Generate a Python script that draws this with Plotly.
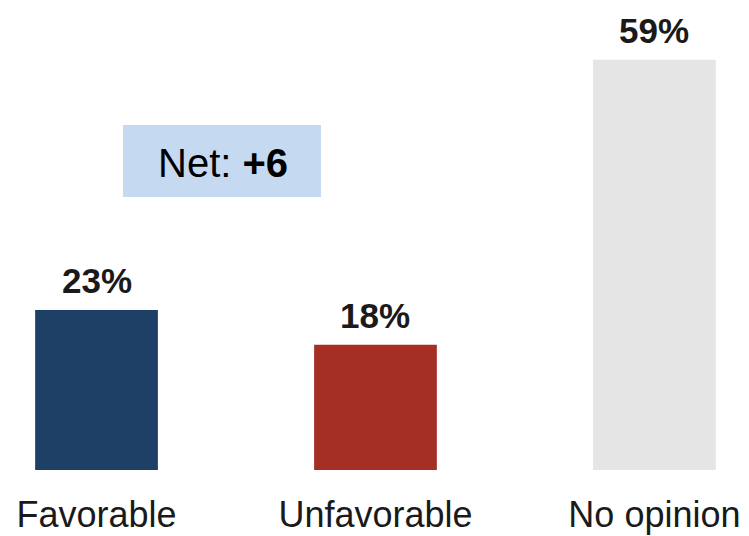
import plotly.graph_objects as go

categories = ["Favorable", "Unfavorable", "No opinion"]
values = [23, 18, 59]
bar_colors = ["#1e3f66", "#a52f25", "#e5e5e5"]
net_label = "Net: <b>+6</b>"

positions = list(range(len(categories)))
FONT = "Liberation Sans, Arial, sans-serif"
TEXT_COLOR = "#1a1a1a"

fig = go.Figure()
fig.add_trace(go.Bar(
    x=positions,
    y=values,
    width=0.44,
    marker=dict(color=bar_colors, line=dict(width=0)),
    hoverinfo="skip",
))

# value labels above each bar
for xpos, v in zip(positions, values):
    fig.add_annotation(
        x=xpos, y=v, xref="x", yref="y",
        text=f"<b>{v}%</b>", showarrow=False,
        yanchor="bottom", yshift=8,
        font=dict(family=FONT, size=35, color=TEXT_COLOR),
    )

# net score callout
fig.add_shape(
    type="rect", xref="paper", yref="paper",
    x0=123 / 749, x1=321 / 749, y0=1 - 197 / 470, y1=1 - 125 / 470,
    fillcolor="#c5d9f0", line=dict(width=0), layer="below",
)
fig.add_annotation(
    x=223 / 749, y=1 - 163 / 470, xref="paper", yref="paper",
    text=net_label, showarrow=False,
    xanchor="center", yanchor="middle",
    font=dict(family=FONT, size=40, color="#000000"),
)

fig.update_layout(
    width=749, height=536,
    margin=dict(l=0, r=0, t=0, b=66),
    paper_bgcolor="white", plot_bgcolor="white",
    showlegend=False,
    xaxis=dict(
        range=[-0.346, 2.339],
        tickmode="array", tickvals=positions, ticktext=categories,
        tickfont=dict(family=FONT, size=36, color=TEXT_COLOR),
        ticklabelstandoff=20,
        showgrid=False, zeroline=False, showline=False, ticks="",
        fixedrange=True,
    ),
    yaxis=dict(
        range=[0, 67.6], visible=False, showgrid=False, zeroline=False,
        fixedrange=True,
    ),
)

fig.write_html("out.html")
